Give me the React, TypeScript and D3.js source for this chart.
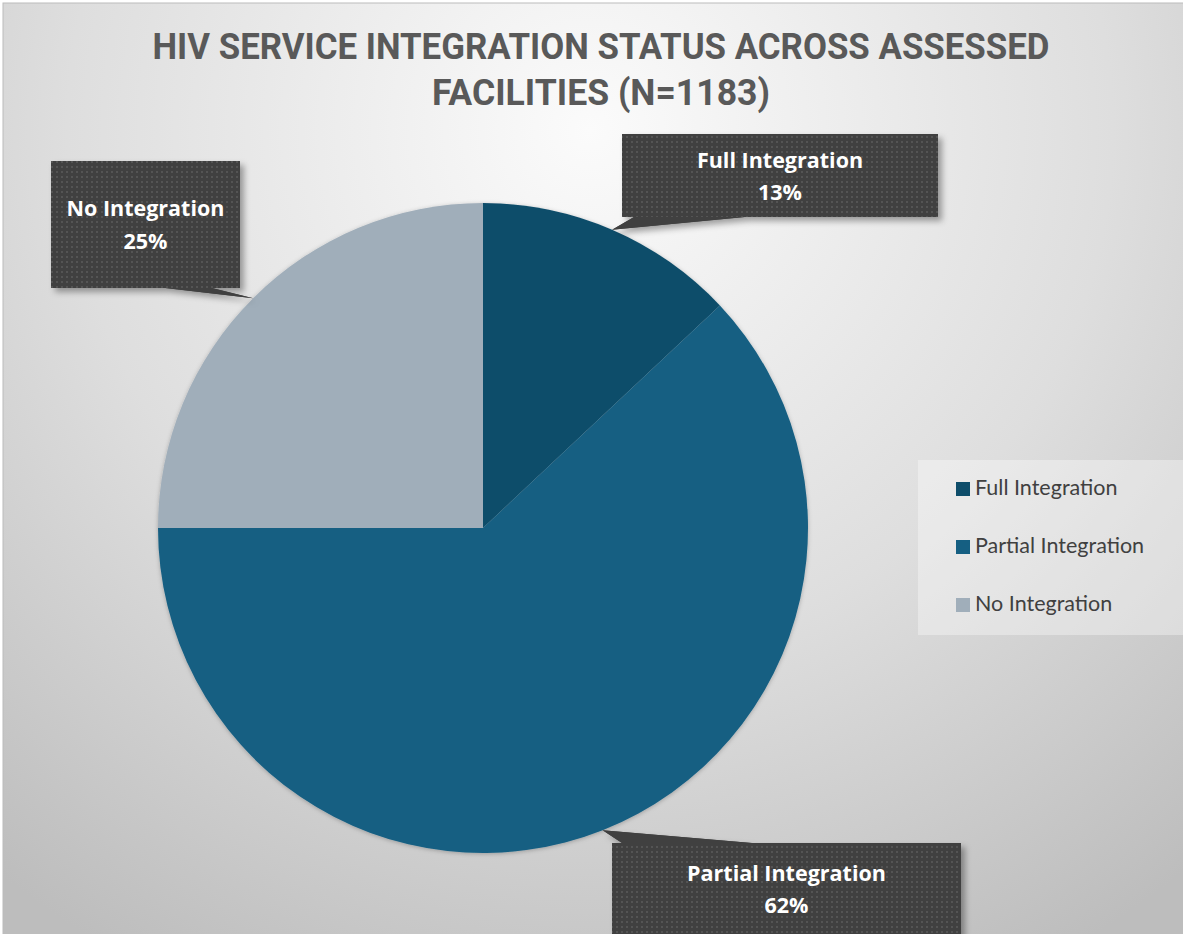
import React from "react";
import * as d3 from "d3";

const categories = ["Full Integration", "Partial Integration", "No Integration"];
const values = [13, 62, 25];
const colors = ["#0E4D6A", "#155F82", "#A0AEBA"];
const titleLines = ["HIV SERVICE INTEGRATION STATUS ACROSS ASSESSED", "FACILITIES (N=1183)"];

const W = 1183;
const H = 934;
const cx = 483;
const cy = 528;
const R = 325;

const calloutBoxes = [
  { x: 622, y: 134, w: 316, h: 83, side: "bottom", b0: 634, b1: 745, t1: 168, t2: 200 },
  { x: 612, y: 843, w: 349, h: 110, side: "top", b0: 622, b1: 752, t1: 881, t2: 913 },
  { x: 51, y: 161, w: 189, h: 127, side: "bottom", b0: 165, b1: 212, t1: 216, t2: 249 },
];

export default function App() {
  const pie = d3.pie<number>().sort(null).value((d) => d)(values);
  const arc = d3.arc<d3.PieArcDatum<number>>().innerRadius(0).outerRadius(R);
  const total = d3.sum(values);

  return (
    <svg width={W} height={H} style={{ position: "absolute", left: 0, top: 0 }}>
      <defs>
        <radialGradient id="bg" gradientUnits="userSpaceOnUse" cx={590} cy={130} r={950}>
          <stop offset="0" stopColor="#fbfbfb" />
          <stop offset="0.55" stopColor="#dedede" />
          <stop offset="1" stopColor="#bdbdbd" />
        </radialGradient>
        <pattern id="dots" width={5} height={5} patternUnits="userSpaceOnUse">
          <rect width={5} height={5} fill="#404040" />
          <rect x={1} y={1} width={2} height={2} fill="#545454" />
        </pattern>
        <filter id="shadow" x="-10%" y="-10%" width="130%" height="140%">
          <feDropShadow dx={4} dy={4} stdDeviation={3} floodColor="#000" floodOpacity={0.35} />
        </filter>
        <filter id="pieShadow" x="-10%" y="-10%" width="120%" height="120%">
          <feDropShadow dx={0} dy={1} stdDeviation={2} floodColor="#000" floodOpacity={0.25} />
        </filter>
      </defs>
      <rect x={0} y={0} width={W} height={H} fill="#ffffff" />
      <rect x={3} y={3} width={W + 10} height={H + 10} fill="url(#bg)" stroke="#bcbcbc" strokeWidth={1} />

      {titleLines.map((t, i) => (
        <text
          key={i}
          x={601}
          y={59 + i * 46}
          textAnchor="middle"
          fontFamily="Roboto, sans-serif"
          fontWeight={700}
          fontSize={36}
          fill="#595959"
          textLength={i === 0 ? 897 : 338}
          lengthAdjust="spacingAndGlyphs"
        >
          {t}
        </text>
      ))}

      <g transform={`translate(${cx},${cy})`} filter="url(#pieShadow)">
        {pie.map((d, i) => (
          <path key={i} d={arc(d) || ""} fill={colors[i]} />
        ))}
      </g>

      {pie.map((d, i) => {
        const b = calloutBoxes[i];
        const mid = (d.startAngle + d.endAngle) / 2;
        const tx = cx + R * Math.sin(mid);
        const ty = cy - R * Math.cos(mid);
        const edgeY = b.side === "bottom" ? b.y + b.h : b.y;
        const pct = Math.round((values[i] / total) * 100);
        const path = `M${b.x},${b.y} H${b.x + b.w} V${b.y + b.h} H${b.x} Z`;
        const wedge = `M${b.b0},${edgeY} L${tx},${ty} L${b.b1},${edgeY} Z`;
        return (
          <g key={i}>
            <g filter="url(#shadow)">
              <path d={wedge} fill="#404040" />
              <path d={path} fill="url(#dots)" />
            </g>
            <path d={wedge} fill="#404040" />
            <rect x={b.x} y={b.y} width={b.w} height={b.h} fill="url(#dots)" />
            <text
              x={b.x + b.w / 2}
              y={b.t1}
              textAnchor="middle"
              fontFamily="'Open Sans', sans-serif"
              fontWeight={700}
              fontSize={21.5}
              fill="#ffffff"
            >
              {categories[i]}
            </text>
            <text
              x={b.x + b.w / 2}
              y={b.t2}
              textAnchor="middle"
              fontFamily="'Open Sans', sans-serif"
              fontWeight={700}
              fontSize={21.5}
              fill="#ffffff"
            >
              {pct}%
            </text>
          </g>
        );
      })}

      <rect x={918} y={460} width={280} height={175} fill="#ffffff" fillOpacity={0.35} />
      {categories.map((c, i) => (
        <g key={c} transform={`translate(956,${482 + i * 58})`}>
          <rect width={14} height={14} fill={colors[i]} />
          <text x={19} y={13} fontFamily="Lato, sans-serif" fontSize={21.5} fill="#404040">
            {c}
          </text>
        </g>
      ))}
    </svg>
  );
}
